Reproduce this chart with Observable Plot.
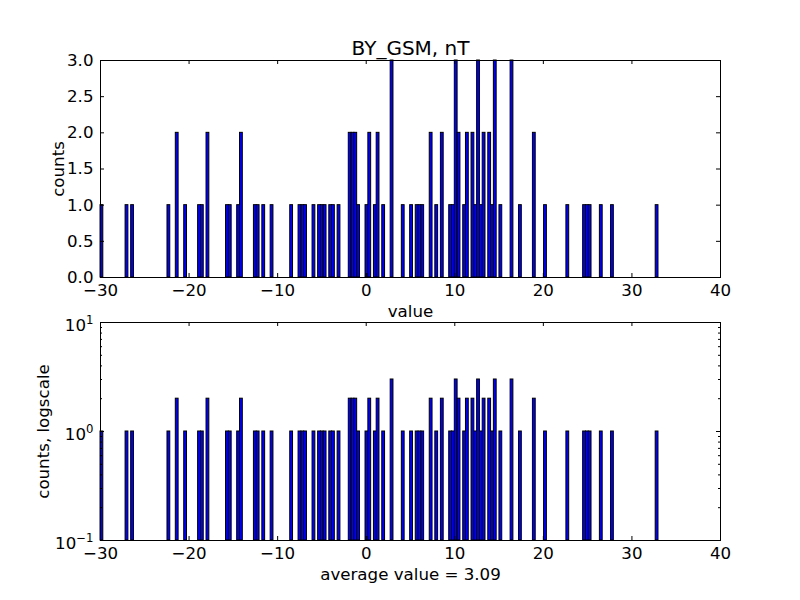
<!DOCTYPE html>
<html>
<head>
<meta charset="utf-8">
<script src="https://cdn.jsdelivr.net/npm/d3@7"></script>
<script src="https://cdn.jsdelivr.net/npm/@observablehq/plot@0.6"></script>
<style>
  html, body { margin: 0; padding: 0; background: white; }
  svg { display: block; overflow: visible !important; }
</style>
</head>
<body>
<div id="chart"></div>
<script>
// Histogram bin centers (BY_GSM, nT) and their counts
const binCenters = [-29.84, -27.01, -26.38, -22.28, -21.34, -20.39, -18.82, -18.50, -17.87, -15.67,
  -15.35, -14.41, -14.09, -12.52, -12.20, -11.57, -10.63, -8.42, -7.48, -7.16,
  -6.85, -5.90, -5.27, -4.96, -4.64, -4.01, -3.70, -3.07, -1.81, -1.49,
  -1.18, -0.86, 0.08, 0.40, 1.03, 1.34, 1.97, 2.92, 4.18, 5.12,
  5.75, 6.07, 6.38, 7.33, 7.96, 8.59, 9.53, 9.85, 10.16, 10.48,
  11.11, 11.42, 12.05, 12.37, 12.68, 13.00, 13.31, 13.94, 14.26, 14.57,
  15.20, 16.46, 17.41, 18.98, 20.24, 22.76, 24.65, 24.97, 25.28, 26.54,
  27.80, 32.84];
const counts = [1,1,1,1,2,1,1,1,2,1, 1,1,2,1,1,1,1,1,1,1, 1,1,1,1,1,1,1,1,2,2,
  2,1,1,2,1,2,1,3,1,1, 1,1,1,2,1,2,1,1,3,2, 1,2,2,1,3,1,2,2,1,3,
  1,3,1,2,1,1,1,1,1,1, 1,1];
const binWidth = 0.315;

const xTicks = [-30, -20, -10, 0, 10, 20, 30, 40];
const yTicksTop = [0, 0.5, 1, 1.5, 2, 2.5, 3];
const logMajor = [0.1, 1, 10];
const logMinor = [0.2,0.3,0.4,0.5,0.6,0.7,0.8,0.9,2,3,4,5,6,7,8,9];

const titleText = "BY_GSM, nT";
const xLabelTop = "value";
const yLabelTop = "counts";
const yLabelBottom = "counts, logscale";
const xLabelBottom = "average value = 3.09";

const bars = binCenters.map((c, i) => ({x1: c - binWidth / 2, x2: c + binWidth / 2, count: counts[i]}));

const W = 800, ML = 100, MR = 80;
const innerW = W - ML - MR;
const FS = 16.67;
const style = {fontFamily: "'DejaVu Sans', sans-serif", fontSize: FS + "px", background: "transparent", color: "black", overflow: "visible"};

// Top panel
const H1 = 300, MT1 = 60, MB1 = 23, innerH1 = H1 - MT1 - MB1;
const topPanel = Plot.plot({
  width: W, height: H1, marginTop: MT1, marginBottom: MB1, marginLeft: ML, marginRight: MR,
  style,
  x: {domain: [-30, 40]},
  y: {domain: [0, 3]},
  marks: [
    Plot.rectY(bars, {x1: "x1", x2: "x2", y1: () => 0, y2: "count", fill: "#0000ff", stroke: "black", strokeWidth: 1}),
    Plot.frame({stroke: "black", strokeWidth: 1}),
    Plot.tickX(xTicks, {x: d => d, insetTop: innerH1 - 4, stroke: "black"}),
    Plot.tickX(xTicks, {x: d => d, insetBottom: innerH1 - 4, stroke: "black"}),
    Plot.tickY(yTicksTop, {y: d => d, insetRight: innerW - 4, stroke: "black"}),
    Plot.tickY(yTicksTop, {y: d => d, insetLeft: innerW - 4, stroke: "black"}),
    Plot.axisX({ticks: xTicks, tickSize: 0, tickPadding: 7, label: null, fontSize: FS}),
    Plot.axisY({ticks: yTicksTop, tickSize: 0, tickPadding: 7, label: null, fontSize: FS, tickFormat: d3.format(".1f")}),
    Plot.text([titleText], {text: d => d, frameAnchor: "top", lineAnchor: "middle", textAnchor: "middle", dy: -12.4, fontSize: 20}),
    Plot.text([xLabelTop], {text: d => d, frameAnchor: "bottom", lineAnchor: "middle", textAnchor: "middle", dy: 34, fontSize: FS}),
    Plot.text([yLabelTop], {text: d => d, frameAnchor: "left", lineAnchor: "middle", textAnchor: "middle", dx: -42, rotate: -90, fontSize: FS})
  ]
});

// Bottom panel (log)
const H2 = 300, MT2 = 22, MB2 = 60, innerH2 = H2 - MT2 - MB2;
const bottomPanel = Plot.plot({
  width: W, height: H2, marginTop: MT2, marginBottom: MB2, marginLeft: ML, marginRight: MR,
  style,
  x: {domain: [-30, 40]},
  y: {type: "log", domain: [0.1, 10]},
  marks: [
    Plot.rectY(bars, {x1: "x1", x2: "x2", y1: () => 0.1, y2: "count", fill: "#0000ff", stroke: "black", strokeWidth: 1}),
    Plot.frame({stroke: "black", strokeWidth: 1}),
    Plot.tickX(xTicks, {x: d => d, insetTop: innerH2 - 4, stroke: "black"}),
    Plot.tickX(xTicks, {x: d => d, insetBottom: innerH2 - 4, stroke: "black"}),
    Plot.tickY(logMajor, {y: d => d, insetRight: innerW - 4, stroke: "black"}),
    Plot.tickY(logMajor, {y: d => d, insetLeft: innerW - 4, stroke: "black"}),
    Plot.tickY(logMinor, {y: d => d, insetRight: innerW - 2, stroke: "black"}),
    Plot.tickY(logMinor, {y: d => d, insetLeft: innerW - 2, stroke: "black"}),
    Plot.axisX({ticks: xTicks, tickSize: 0, tickPadding: 7, label: null, fontSize: FS}),
    Plot.axisY({ticks: logMajor, tickSize: 0, tickPadding: 7, label: null, fontSize: FS,
      tickFormat: d => "10^" + Math.round(Math.log10(d))}),
    Plot.text([xLabelBottom], {text: d => d, frameAnchor: "bottom", lineAnchor: "middle", textAnchor: "middle", dy: 34, fontSize: FS}),
    Plot.text([yLabelBottom], {text: d => d, frameAnchor: "left", lineAnchor: "middle", textAnchor: "middle", dx: -57, rotate: -90, fontSize: FS})
  ]
});

// Render log tick labels as 10 with superscript exponent
bottomPanel.querySelectorAll('g[aria-label="y-axis tick label"] text').forEach(t => {
  const s = t.textContent;
  if (!s.startsWith("10^")) return;
  const exp = s.slice(3).replace("-", "\u2212");
  t.textContent = "";
  const ns = "http://www.w3.org/2000/svg";
  const base = document.createElementNS(ns, "tspan");
  base.textContent = "10";
  base.setAttribute("dy", "3");
  const sup = document.createElementNS(ns, "tspan");
  sup.textContent = exp;
  sup.setAttribute("dy", "-7");
  sup.setAttribute("font-size", "11.7px");
  t.appendChild(base);
  t.appendChild(sup);
});

const chart = document.getElementById("chart");
chart.appendChild(topPanel);
chart.appendChild(bottomPanel);
</script>
</body>
</html>
